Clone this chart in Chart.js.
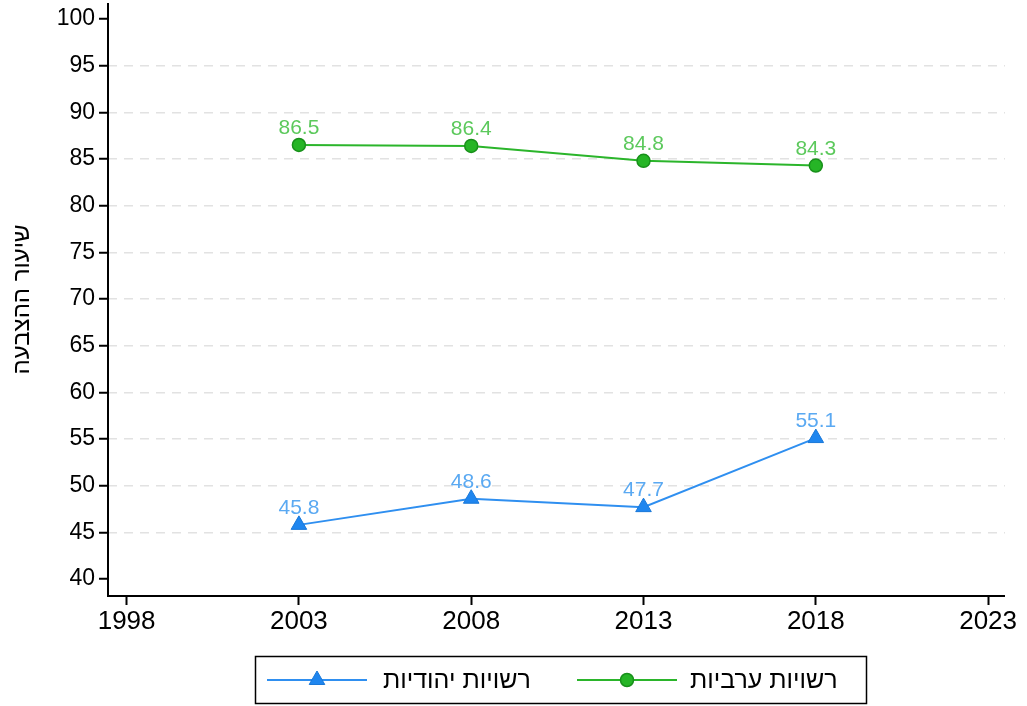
<!DOCTYPE html>
<html>
<head>
<meta charset="utf-8">
<script src="https://cdn.jsdelivr.net/npm/chart.js@4.4.1/dist/chart.umd.min.js"></script>
<style>
html,body{margin:0;padding:0;background:#fff;}
#wrap{width:1027px;height:706px;}
</style>
</head>
<body>
<div id="wrap"><canvas id="c" width="1027" height="706"></canvas></div>
<script>
const years = [2003, 2008, 2013, 2018];
const jewishValues = [45.8, 48.6, 47.7, 55.1];
const arabValues = [86.5, 86.4, 84.8, 84.3];
const xTickValues = [1998, 2003, 2008, 2013, 2018, 2023];
const yTickValues = [40, 45, 50, 55, 60, 65, 70, 75, 80, 85, 90, 95, 100];
const seriesNames = ['רשויות יהודיות', 'רשויות ערביות'];
const yTitle = 'שיעור ההצבעה';

const FONT = '"Liberation Sans", Arial, sans-serif';
const blue = '#2f8ff0', blueLabel = '#5aa9f2';
const green = '#2bb52b', greenLabel = '#5cc95c';

const toPts = (vals) => years.map((y, i) => ({x: y, y: vals[i]}));

const labelsPlugin = {
  id: 'valueLabels',
  afterDatasetsDraw(chart) {
    const ctx = chart.ctx;
    ctx.save();
    ctx.font = '21px ' + FONT;
    ctx.textAlign = 'center';
    ctx.textBaseline = 'alphabetic';
    chart.data.datasets.forEach((ds, di) => {
      const meta = chart.getDatasetMeta(di);
      ctx.fillStyle = ds.labelColor;
      meta.data.forEach((el, i) => {
        ctx.fillText(ds.data[i].y.toFixed(1), el.x, el.y - 11);
      });
    });
    ctx.restore();
  }
};

const framePlugin = {
  id: 'frame',
  afterDraw(chart) {
    const ctx = chart.ctx;
    const a = chart.chartArea;
    ctx.save();
    ctx.strokeStyle = '#000';
    ctx.lineWidth = 2;
    ctx.beginPath();
    ctx.moveTo(a.left, a.top);
    ctx.lineTo(a.left, a.bottom);
    ctx.lineTo(a.right, a.bottom);
    ctx.stroke();

    // legend box
    ctx.lineWidth = 1.5;
    ctx.strokeRect(255.5, 656.5, 611, 47);
    const items = [
      {x0: 267, x1: 367, ds: 0, tx: 383},
      {x0: 577, x1: 677, ds: 1, tx: 690}
    ];
    const yMid = 680;
    items.forEach(it => {
      const ds = chart.data.datasets[it.ds];
      ctx.strokeStyle = ds.borderColor;
      ctx.lineWidth = 2;
      ctx.beginPath();
      ctx.moveTo(it.x0, yMid);
      ctx.lineTo(it.x1, yMid);
      ctx.stroke();
      ctx.fillStyle = ds.pointBackgroundColor;
      ctx.strokeStyle = ds.pointBorderColor;
      ctx.lineWidth = ds.pointBorderWidth;
      Chart.helpers.drawPoint(ctx, {
        pointStyle: ds.pointStyle, radius: ds.pointRadius, borderWidth: ds.pointBorderWidth
      }, (it.x0 + it.x1) / 2, yMid);
      ctx.fillStyle = '#000';
      ctx.font = '25px ' + FONT;
      ctx.textAlign = 'left';
      ctx.textBaseline = 'middle';
      ctx.fillText(ds.label, it.tx, yMid + 1);
    });
    ctx.restore();
  }
};

new Chart(document.getElementById('c'), {
  type: 'line',
  data: {
    datasets: [
      {
        label: seriesNames[0],
        data: toPts(jewishValues),
        borderColor: blue,
        borderWidth: 2,
        pointStyle: 'triangle',
        pointRadius: 9,
        pointBackgroundColor: '#1f86ef',
        pointBorderColor: '#1a78d8',
        pointBorderWidth: 1,
        labelColor: blueLabel,
        tension: 0
      },
      {
        label: seriesNames[1],
        data: toPts(arabValues),
        borderColor: green,
        borderWidth: 2,
        pointStyle: 'circle',
        pointRadius: 6.5,
        pointBackgroundColor: '#26b526',
        pointBorderColor: '#18901a',
        pointBorderWidth: 1.5,
        labelColor: greenLabel,
        tension: 0
      }
    ]
  },
  options: {
    responsive: false,
    animation: false,
    events: [],
    layout: {autoPadding: false, padding: {left: 0, right: 22, top: 3, bottom: 0}},
    plugins: {legend: {display: false}, tooltip: {enabled: false}},
    scales: {
      x: {
        type: 'linear',
        min: 1997.46,
        max: 2023.49,
        afterBuildTicks(s) { s.ticks = xTickValues.map(v => ({value: v})); },
        afterFit(s) { s.height = 110; s.paddingLeft = 0; s.paddingRight = 0; },
        border: {display: false},
        grid: {
          drawOnChartArea: false,
          drawTicks: true,
          tickLength: 9,
          tickColor: '#000',
          tickWidth: 2
        },
        ticks: {
          color: '#000',
          font: {family: FONT, size: 26},
          padding: 1,
          maxRotation: 0,
          autoSkip: false,
          callback: v => String(v)
        }
      },
      y: {
        type: 'linear',
        min: 38.18,
        max: 101.71,
        afterBuildTicks(s) { s.ticks = yTickValues.map(v => ({value: v})); },
        afterFit(s) { s.width = 108; s.paddingTop = 0; s.paddingBottom = 0; },
        border: {display: false, dash: [9, 7]},
        grid: {
          drawTicks: true,
          tickLength: 9,
          tickColor: '#000',
          tickWidth: 2,
          tickBorderDash: [],
          lineWidth: 1.5,
          color: ctx => (ctx.tick && (ctx.tick.value === 40 || ctx.tick.value === 100)) ? 'rgba(0,0,0,0)' : '#e2e2e2'
        },
        ticks: {
          color: '#000',
          font: {family: FONT, size: 23},
          padding: 4,
          autoSkip: false,
          callback: v => String(v)
        },
        title: {
          display: true,
          text: yTitle,
          color: '#000',
          font: {family: FONT, size: 24},
          padding: {top: 8, bottom: 0}
        }
      }
    }
  },
  plugins: [labelsPlugin, framePlugin]
});
</script>
</body>
</html>
